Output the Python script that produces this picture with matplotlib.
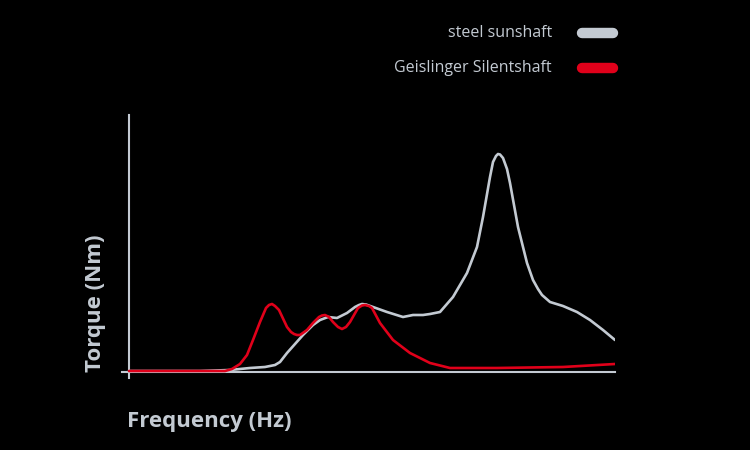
import matplotlib.pyplot as plt
from matplotlib.lines import Line2D

# frequency and torque in arbitrary units (the chart has no scale)
steel_freq = [0, 71, 101, 121, 136, 146, 151, 158, 166, 174, 184, 191, 199, 208, 218,
              226, 230, 233, 237, 244, 258, 274, 284, 294, 301, 311, 324, 338, 348,
              354, 361, 364, 367, 369, 371, 374, 378, 381, 389, 398, 404, 409, 413,
              421, 434, 448, 461, 474, 486]
steel_torque = [1, 1, 2, 4, 5, 7, 10, 19, 28, 37, 47, 52, 55, 54, 59,
                65, 67, 68, 67.5, 65, 60, 55, 57, 57, 58, 60, 75, 99, 125,
                155, 195, 210, 216, 218, 217.5, 214, 203, 189, 145, 109, 92, 83, 77,
                70, 66, 60, 52, 42, 32]

silent_freq = [0, 96, 103, 111, 118, 124, 131, 137, 140, 143, 146, 150, 158, 162, 165,
               168, 171, 178, 184, 190, 193, 196, 200, 204, 209, 213, 217, 221, 229,
               233, 236, 240, 243, 251, 264, 281, 301, 321, 368, 434, 486]
silent_torque = [1, 1, 3, 8, 17, 32, 50, 64, 67, 68, 66, 62, 45, 40, 38,
                 37, 37, 42, 49, 55, 56.5, 57, 55, 50, 45, 43, 45, 50, 64,
                 66.5, 67, 66, 64, 49, 32, 19, 9, 4, 4, 5, 8]

series_names = ['steel sunshaft', 'Geislinger Silentshaft']
grey = '#c3cad2'
red = '#e0001a'

W, H = 750, 450
fig = plt.figure(figsize=(7.5, 4.5), dpi=100, facecolor='black')
ax = fig.add_axes([122 / W, (H - 378) / H, 493 / W, 263 / H], facecolor='black')

ax.plot(steel_freq, steel_torque, color=grey, lw=1.9, solid_capstyle='round',
        solid_joinstyle='round', zorder=2)
ax.plot(silent_freq, silent_torque, color=red, lw=1.9, solid_capstyle='round',
        solid_joinstyle='round', zorder=3)

ax.set_xlim(-7, 486)
ax.set_ylim(-6, 257)
for s in ['top', 'right']:
    ax.spines[s].set_visible(False)
ax.spines['left'].set_position(('data', 0))
ax.spines['bottom'].set_position(('data', 0))
ax.spines['left'].set_bounds(-6, 257)
ax.spines['bottom'].set_bounds(-7, 486)
for s in ['left', 'bottom']:
    ax.spines[s].set_color(grey)
    ax.spines[s].set_linewidth(1.5)
    ax.spines[s].set_zorder(1)
ax.set_xticks([])
ax.set_yticks([])

font = 'Open Sans'
fig.text(127 / W, 1 - 421 / H, 'Frequency (Hz)', color=grey, fontsize=16,
         fontweight='bold', family=font, ha='left', va='center')
fig.text(96 / W, 1 - 303 / H, 'Torque (Nm)', color=grey, fontsize=16,
         fontweight='bold', family=font, ha='center', va='center', rotation=90)

# legend drawn by hand
for name, col, ypx in zip(series_names, [grey, red], [33, 68]):
    fig.text(552 / W, 1 - ypx / H, name, color=grey, fontsize=11.5, family=font,
             ha='right', va='center')
    fig.add_artist(Line2D([582 / W, 613 / W], [1 - ypx / H, 1 - ypx / H],
                          transform=fig.transFigure, color=col, lw=7.5,
                          solid_capstyle='round'))

fig.savefig('out.png', dpi=100, facecolor='black')
